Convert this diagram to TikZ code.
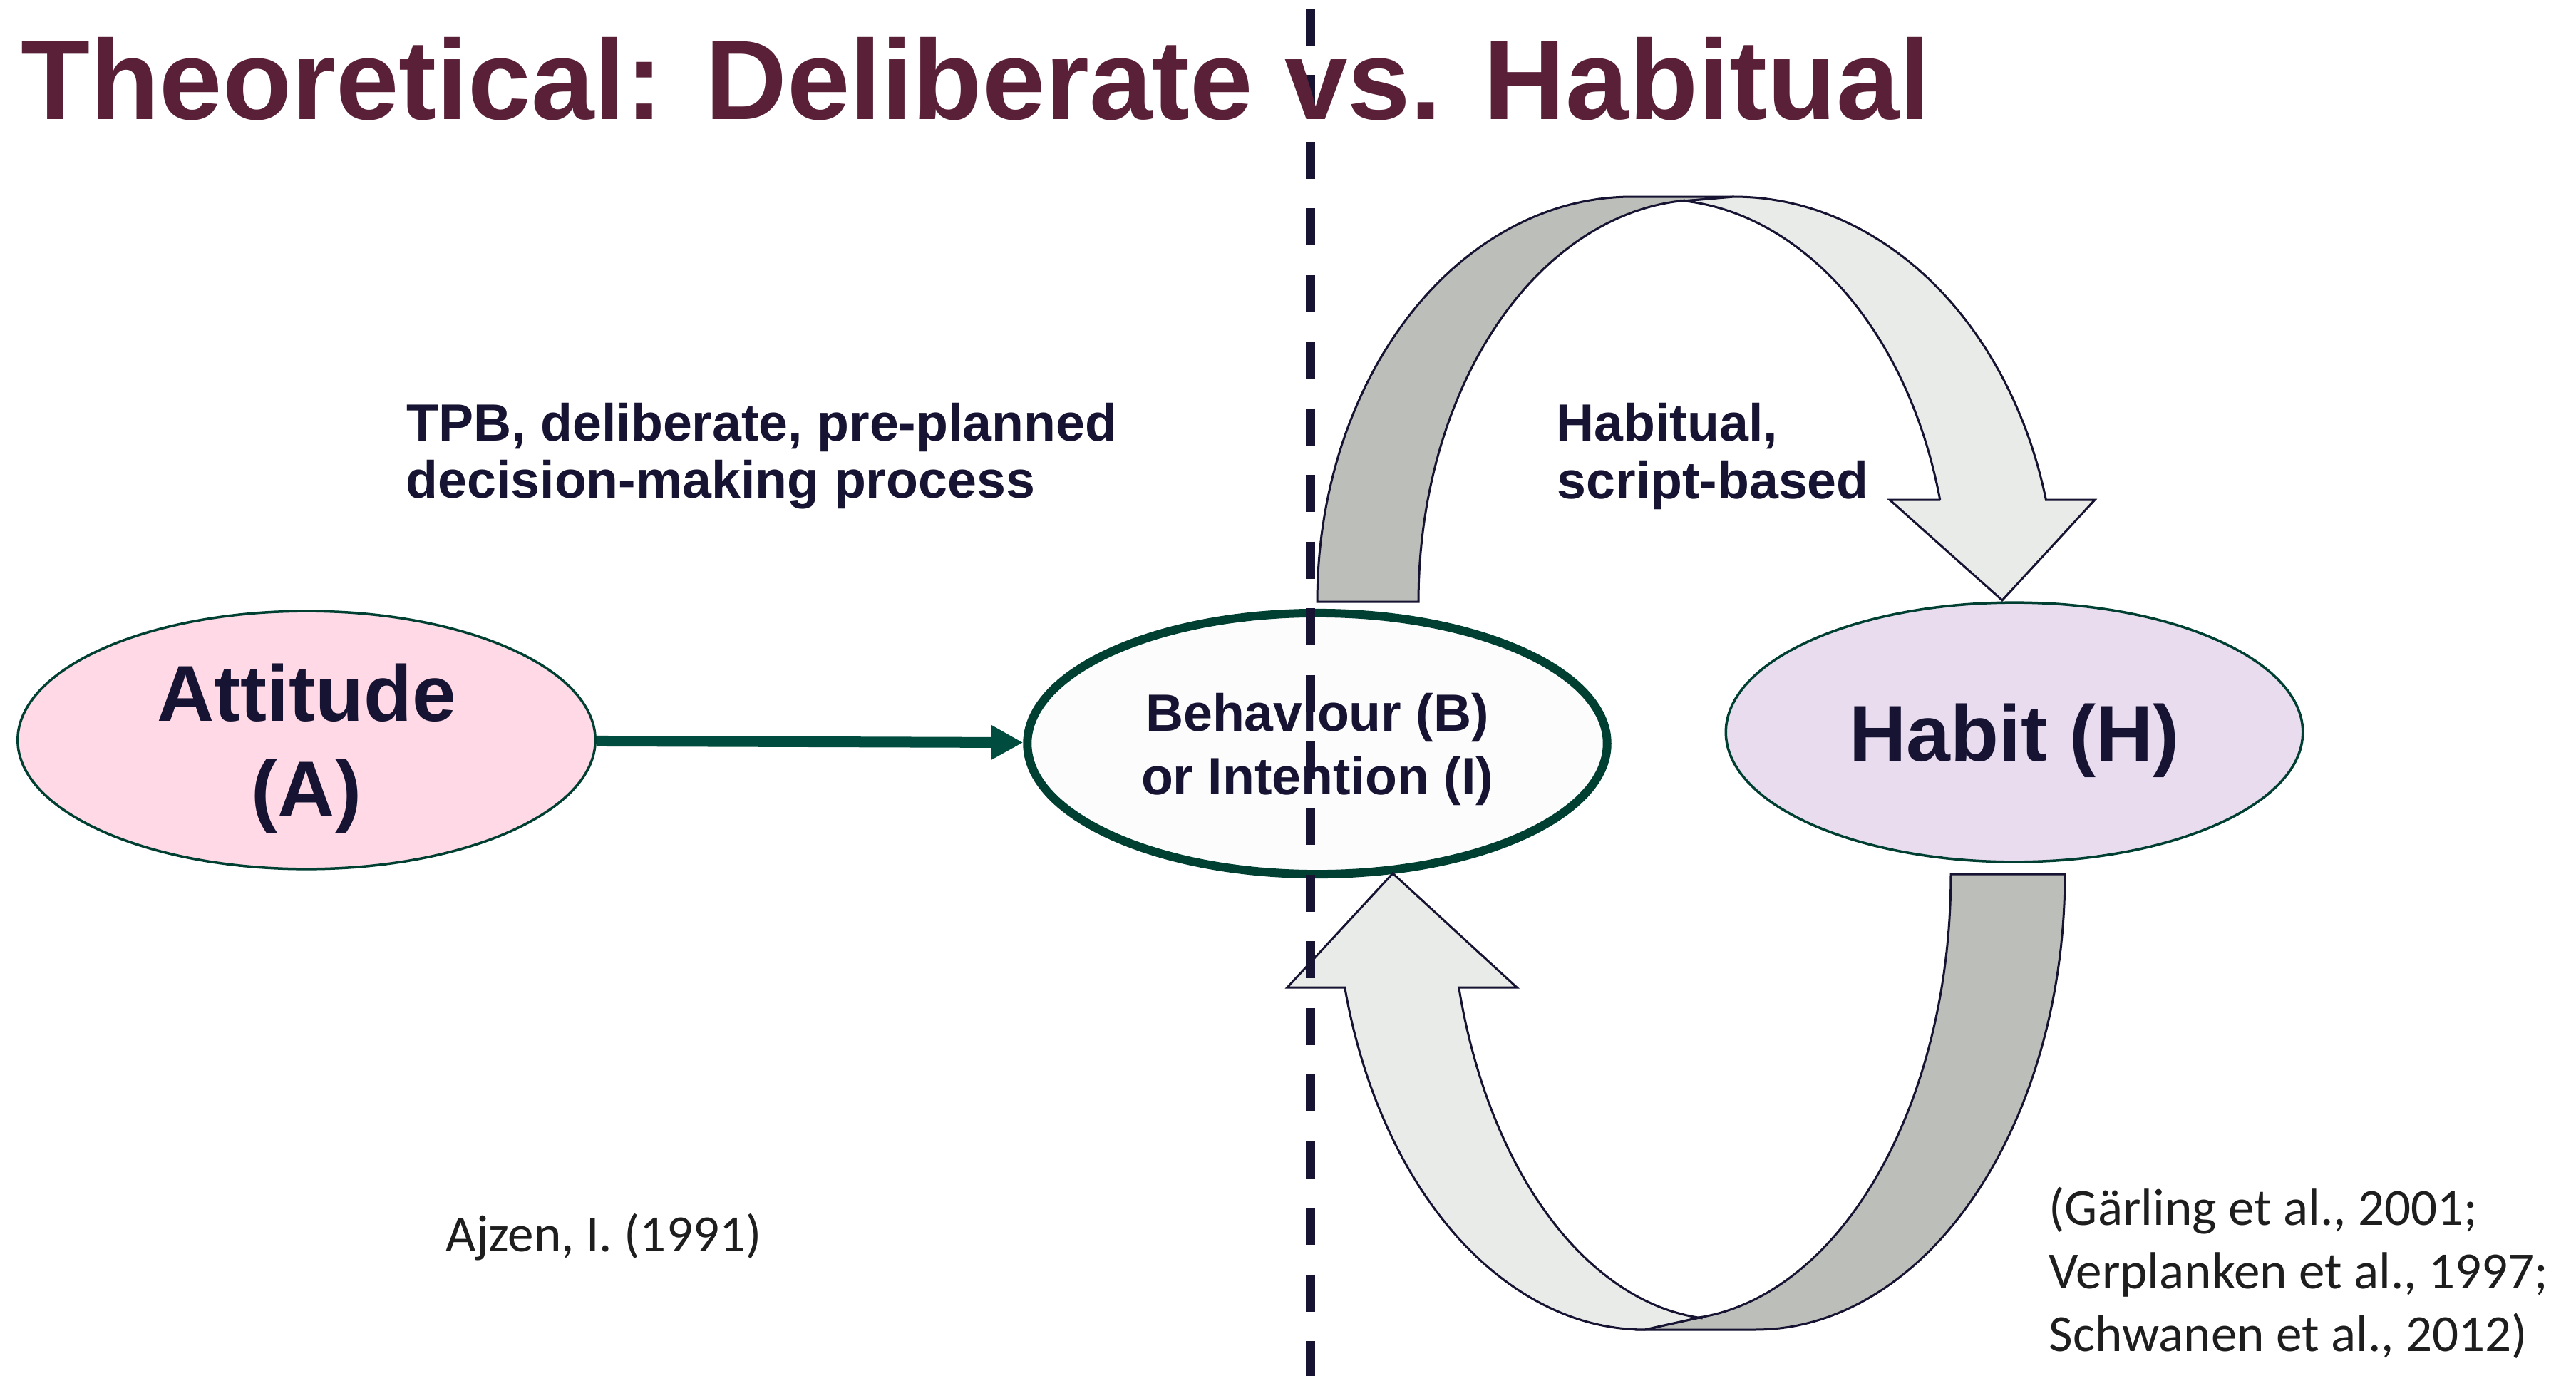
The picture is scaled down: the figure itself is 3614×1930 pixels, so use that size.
\documentclass[tikz,border=0pt]{standalone}
\usepackage{fontspec}
\setmainfont{Liberation Sans}
\newfontfamily\citefont{Carlito}
\usetikzlibrary{shapes.geometric,arrows.meta}

\definecolor{titlecol}{RGB}{90,32,55}
\definecolor{ink}{RGB}{22,20,50}
\definecolor{attfill}{RGB}{255,217,230}
\definecolor{habfill}{RGB}{232,220,238}
\definecolor{behfill}{RGB}{252,252,252}
\definecolor{ellline}{RGB}{0,64,51}
\definecolor{linkcol}{RGB}{0,77,64}
\definecolor{bandback}{RGB}{188,190,186}
\definecolor{bandfront}{RGB}{233,235,232}
\definecolor{citecol}{RGB}{30,30,30}

\begin{document}
\begin{tikzpicture}[x=0.01cm,y=-0.01cm,
  oval/.style={ellipse, inner sep=0pt, align=center, text=ink},
  bigfont/.style={font=\bfseries\fontsize{31.6pt}{38.1pt}\selectfont},
  midfont/.style={font=\bfseries\fontsize{20.9pt}{25.3pt}\selectfont, text=ink},
  linetext/.style={anchor=base west, inner sep=0pt},
  citestyle/.style={anchor=base west, inner sep=0pt, text=citecol,
    font=\citefont\fontsize{20.8pt}{25pt}\selectfont},
  backband/.style={fill=bandback, draw=ink, line width=0.03cm},
  frontband/.style={fill=bandfront, draw=ink, line width=0.03cm},
  divider/.style={draw=ink, line width=0.13cm, dash pattern=on 0.52cm off 0.414cm},
  link/.style={draw=linkcol, line width=0.15cm,
    -{Triangle[length=0.45cm,width=0.46cm]}}
]
% canvas
\fill[white] (0,0) rectangle (3614,1930);
\useasboundingbox (0,0) rectangle (3614,1930);

% the three constructs
\node[oval, bigfont, draw=ellline, line width=0.035cm, fill=attfill,
      minimum width=8.1cm, minimum height=3.615cm] (att) at (430,1038)
      {Attitude\\\smash{(A)}};
\node[oval, midfont, draw=ellline, line width=0.12cm, fill=behfill,
      minimum width=8.13cm, minimum height=3.66cm] (beh) at (1848,1043)
      {Behaviour (B)\\\smash{or Intention (I)}};
\node[oval, bigfont, draw=ellline, line width=0.035cm, fill=habfill,
      minimum width=8.09cm, minimum height=3.635cm,
      text height=0.8cm, text depth=0pt] (hab) at (2826,1027)
      {Habit (H)};

% upper curved arrow: behaviour -> habit
\filldraw[backband] (1848,844)
  -- plot[domain=180:90,samples=60] ({2289+441*cos(\x)},{844-568*sin(\x)})
  -- (2433,276) -- (2362,282)
  -- plot[domain=94:180,samples=60] ({2390+400*cos(\x)},{844-564*sin(\x)})
  -- cycle;
\filldraw[frontband] (2362,282) -- (2433,276)
  -- plot[domain=90:14.58,samples=60] ({2433+452*cos(\x)},{844-568*sin(\x)})
  -- (2939,701) -- (2809,842) -- (2651,701) -- (2722,701)
  -- plot[domain=14.69:85.5,samples=60] ({2330+405*cos(\x)},{844-564*sin(\x)})
  -- cycle;

% lower curved arrow: habit -> behaviour
\filldraw[backband] (2737,1226) -- (2897,1226)
  -- plot[domain=0:-90,samples=60] ({2463+434*cos(\x)},{1226-639*sin(\x)})
  -- (2307,1865) -- (2384,1848)
  -- plot[domain=-84.3:0,samples=60] ({2345+392*cos(\x)},{1226-625*sin(\x)})
  -- cycle;
\filldraw[frontband] (2384,1848) -- (2307,1865)
  -- plot[domain=270:194.41,samples=60] ({2307+434*cos(\x)},{1226-639*sin(\x)})
  -- (1806,1385) -- (1954,1225) -- (2128,1385) -- (2047,1385)
  -- plot[domain=194.74:265.35,samples=60] ({2420+386*cos(\x)},{1226-625*sin(\x)})
  -- cycle;

% attitude -> behaviour
\draw[link] (att) -- (beh);

% dividing line between the two modes
\coordinate (divtop) at (1838,12);
\coordinate (divbot) at (1838,1930);
\draw[divider] (divtop) -- (divbot);

% texts
\node[linetext, text=titlecol, font=\bfseries\fontsize{45.2pt}{54pt}\selectfont]
  (title) at (29,167) {Theoretical: Deliberate vs. Habitual};
\node[linetext, midfont] (tpbA) at (570,618) {TPB, deliberate, pre-planned};
\node[linetext, midfont] (tpbB) at (569,698) {decision-making process};
\node[linetext, midfont] (habA) at (2183,618) {Habitual,};
\node[linetext, midfont] (habB) at (2184,699) {script-based};
\node[citestyle] (ajzen) at (625,1755) {Ajzen, I. (1991)};
\node[citestyle] (refA) at (2874,1718) {(Gärling et al., 2001;};
\node[citestyle] (refB) at (2874,1807) {Verplanken et al., 1997;};
\node[citestyle] (refC) at (2874,1895) {Schwanen et al., 2012)};
\end{tikzpicture}
\end{document}
